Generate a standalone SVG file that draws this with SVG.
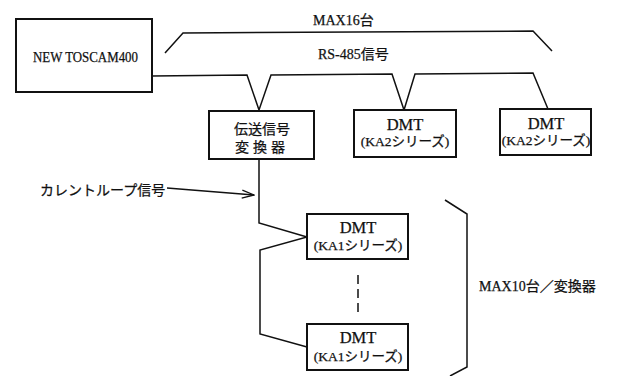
<svg xmlns="http://www.w3.org/2000/svg" width="619" height="376" viewBox="0 0 619 376">
<style>
.box{fill:#fff;stroke:#111;stroke-width:2}
.ln{fill:none;stroke:#111;stroke-width:1.5;stroke-linejoin:miter}
.t{font-family:"Liberation Serif","Noto Sans CJK JP",serif;fill:#111;font-size:14px;stroke:#111;stroke-width:0.25}
.c{text-anchor:middle}
.d{font-size:16.5px}
.s{font-size:13.5px}
</style>
<defs>
<marker id="arr" markerWidth="14" markerHeight="10" refX="13" refY="5" orient="auto" markerUnits="userSpaceOnUse">
<path d="M1,1 L13,5 L1,9" fill="none" stroke="#111" stroke-width="1.3"/>
</marker>
</defs>
<rect width="619" height="376" fill="#fff"/>
<g id="connectors">
<path class="ln" d="M165,53 L183,33 L533,31 L552,51"/>
<path class="ln" d="M152,76 L247,75 L259,110 L271,75 L392,74 L404,110 L415,74 L533,73 L548,109"/>
<path class="ln" d="M259,159 L259,223 L307,237 L260,250 L260,334 L307,347"/>
<path class="ln" d="M358,275 L358,315" stroke-dasharray="9,5"/>
<path class="ln" d="M445,200 L467,214 L467,367 L450,376"/>
<path class="ln" d="M167,188 L254,195" marker-end="url(#arr)"/>
</g>
<g id="toscam">
<rect class="box" x="16" y="19" width="136" height="73"/>
<text class="t" x="33" y="62" font-size="15" textLength="105" lengthAdjust="spacingAndGlyphs">NEW TOSCAM400</text>
</g>
<g id="converter">
<rect class="box" x="209" y="111" width="105" height="48"/>
<text class="t c" x="262" y="134">伝送信号</text>
<text class="t c" x="262" y="152" letter-spacing="4">変換器</text>
</g>
<g id="ka2a">
<rect class="box" x="354" y="110" width="102" height="47"/>
<text class="t c d" x="405" y="130">DMT</text>
<text class="t c s" x="405" y="146">(KA2シリーズ)</text>
</g>
<g id="ka2b">
<rect class="box" x="500" y="109" width="91" height="46"/>
<text class="t c d" x="546" y="129">DMT</text>
<text class="t c s" x="546" y="145">(KA2シリーズ)</text>
</g>
<g id="ka1a">
<rect class="box" x="307" y="214" width="101" height="45"/>
<text class="t c d" x="358" y="233">DMT</text>
<text class="t c s" x="358" y="250">(KA1シリーズ)</text>
</g>
<g id="ka1b">
<rect class="box" x="307" y="324" width="101" height="46"/>
<text class="t c d" x="358" y="343">DMT</text>
<text class="t c s" x="358" y="361">(KA1シリーズ)</text>
</g>
<g id="labels">
<text class="t" x="313" y="25" font-size="15">MAX16台</text>
<text class="t" x="318" y="59" font-size="15">RS-485信号</text>
<text class="t" x="40" y="195">カレントループ信号</text>
<text class="t" x="479" y="291" font-size="15">MAX10台／変換器</text>
</g>
</svg>
